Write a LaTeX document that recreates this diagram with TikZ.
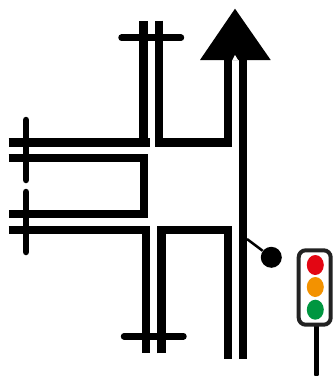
\documentclass[tikz,border=0pt]{standalone}
\usetikzlibrary{shapes.geometric}
\definecolor{lampred}{HTML}{E30613}
\definecolor{lamporange}{HTML}{F39200}
\definecolor{lampgreen}{HTML}{009640}
\definecolor{housing}{HTML}{222222}
\tikzset{
    road/.style={line width=0.165cm},
    stopline/.style={line width=0.13cm, line cap=round},
    lamp/.style={ellipse, minimum width=0.34cm, minimum height=0.4cm, inner sep=0pt},
}
\begin{document}
\begin{tikzpicture}[x=0.02cm,y=-0.02cm]
    \useasboundingbox (0,0) rectangle (333,376);

    % stop lines
    \draw[stopline] (121.5,37.7) -- (181,37.7);
    \draw[stopline] (124,336.3) -- (183.5,336.3);
    \draw[stopline] (26,120) -- (26,180);
    \draw[stopline] (26,192) -- (26,252);

    % north arm
    \draw[road] (8.7,142.5) -- (143.5,142.5) -- (143.5,20.7);
    \draw[road] (149.7,142.5) -- (143.5,142.5);
    \draw[road] (159,20.7) -- (159,142.5) -- (227.7,142.5) -- (227.7,58);

    % west arm
    \draw[road] (8.7,158) -- (143.7,158) -- (143.7,214) -- (8.7,214);

    % south arm
    \draw[road] (8.7,230) -- (145.8,230) -- (145.8,353.3);
    \draw[road] (161.5,353.3) -- (161.5,230) -- (228,230) -- (228,359);

    % through lane with arrow
    \draw[road] (243,359) -- (243,58);
    \fill (235,8.7) -- (270.7,60) -- (200,60) -- cycle;
    \fill[white] (232.3,60.2) -- (235,55) -- (238.2,60.2) -- cycle;

    % detector
    \coordinate (tap) at (247,239);
    \node[circle, fill, minimum size=0.42cm, inner sep=0pt] (detector) at (271.3,257.3) {};
    \draw[line width=0.05cm] (tap) -- (detector);

    % signal
    \draw[line width=0.095cm, line cap=round] (316.3,326) -- (316.3,374.5);
    \draw[housing, line width=0.08cm, fill=white, rounded corners=0.14cm] (298.7,250.3) rectangle (330.7,324.7);
    \node[lamp, fill=lampred] (red) at (315.3,265) {};
    \node[lamp, fill=lamporange] (orange) at (315.3,287) {};
    \node[lamp, fill=lampgreen] (green) at (315.3,309.7) {};

\end{tikzpicture}
\end{document}
